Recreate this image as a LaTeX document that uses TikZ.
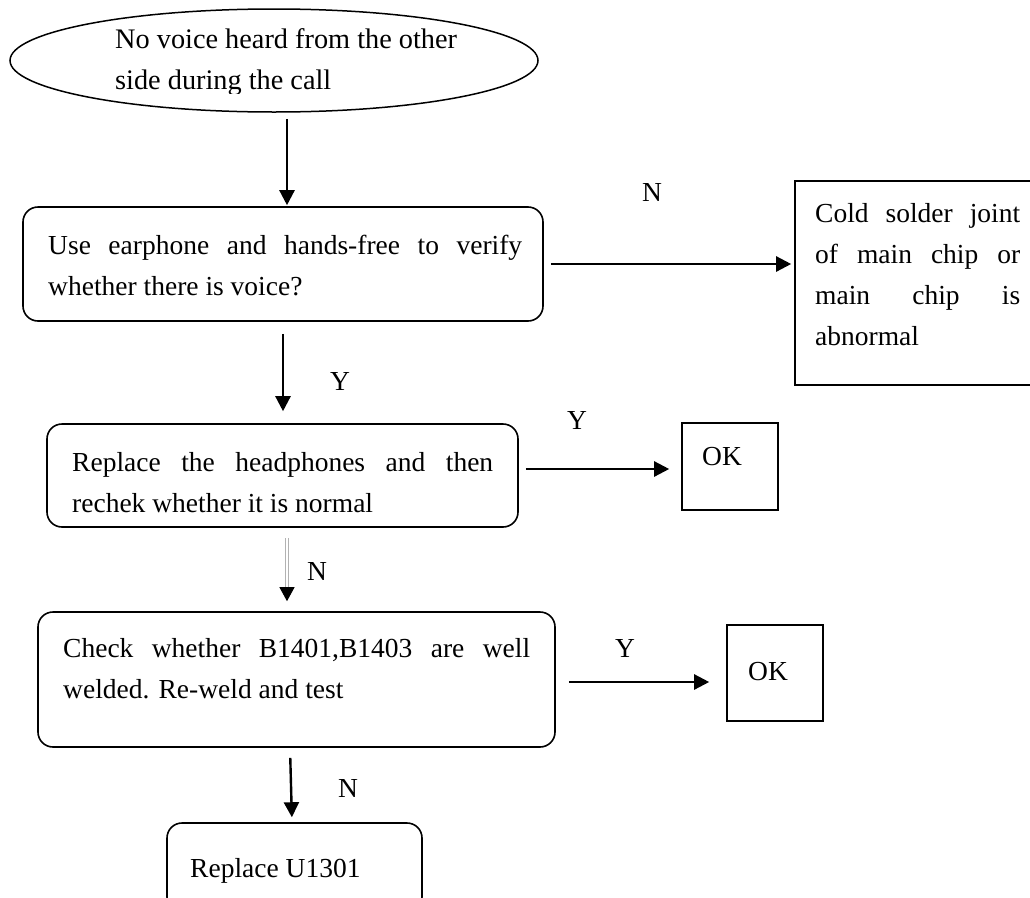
\documentclass[tikz,border=0pt]{standalone}
\usepackage{fontspec}
\setmainfont{Liberation Serif}
\usetikzlibrary{arrows.meta,shapes.geometric}
\tikzset{
  rbox/.style={draw, line width=1.6pt, rounded corners=15pt, inner sep=0pt},
  sqbox/.style={draw, line width=1.6pt, inner sep=0pt},
  txt/.style={anchor=base west, inner sep=0pt, font=\fontsize{27.5}{41}\selectfont},
  lbl/.style={anchor=base, inner sep=0pt, font=\fontsize{27.5}{41}\selectfont},
  arr/.style={line width=2.4pt, -{Triangle[length=15pt,width=15pt]}},
}
\begin{document}
\begin{tikzpicture}[x=1pt,y=-1pt]
\useasboundingbox (0,0) rectangle (1030,897);
\clip (0,0) rectangle (1030,897);

% shapes
\node[ellipse, draw, line width=1.5pt, inner sep=0pt,
      minimum width=528pt, minimum height=103pt] (start) at (274,60.5) {};
\node[rbox, minimum width=520pt, minimum height=114pt] (b1) at (283,264) {};
\node[sqbox, minimum width=250pt, minimum height=204pt] (rb) at (920,283) {};
\node[rbox, minimum width=471pt, minimum height=103pt] (b2) at (282.5,475.5) {};
\node[sqbox, minimum width=96pt, minimum height=87pt] (ok1) at (730,466.5) {};
\node[rbox, minimum width=517pt, minimum height=135pt] (b3) at (296.5,679.5) {};
\node[sqbox, minimum width=96pt, minimum height=96pt] (ok2) at (775,673) {};
\node[rbox, minimum width=255pt, minimum height=89pt] (b4) at (294.5,867.5) {};

% texts
\begin{scope}
  \clip (0,0) rectangle (1030,93);
  \node[txt, font=\fontsize{28.3}{41}\selectfont] (t0) at (115,48)
    {\parbox[t]{380pt}{\raggedright No voice heard from the other\\ side during the call}};
\end{scope}
\node[txt] (t1) at (48,254) {\parbox[t]{474pt}{Use earphone and hands-free to verify\linebreak whether there is voice?}};
\node[txt] (trb) at (815,222) {\parbox[t]{205pt}{Cold solder joint\linebreak of main chip or\linebreak main chip is\linebreak abnormal}};
\node[txt] (t2) at (72,471) {\parbox[t]{421pt}{Replace the headphones and then\linebreak rechek whether it is normal}};
\node[txt] (tok1) at (702,465) {OK};
\node[txt] (t3) at (63,657) {\parbox[t]{467pt}{Check whether B1401,B1403 are well\linebreak welded. Re-weld and test}};
\node[txt] (tok2) at (748,680) {OK};
\node[txt] (t4) at (190,877) {Replace U1301};

% connectors
\draw[arr, shorten <=6pt, shorten >=1pt] ([xshift=13pt]start.south) -- ([xshift=4pt]b1.north);
\draw[arr, shorten <=7pt, shorten >=3pt] (b1.east) -- (b1.east -| rb.west);
\draw[arr, shorten <=12pt, shorten >=12pt] (b1.south) -- (b1.south |- b2.north);
\draw[arr, shorten <=7pt, shorten >=12pt] ([yshift=6.5pt]b2.east) -- ([yshift=6.5pt]b2.east -| ok1.west);
\draw[draw=gray!60, double=white, double distance=2pt, line width=0.7pt,
      shorten <=10pt, shorten >=22pt] ([xshift=4.5pt]b2.south) -- ([xshift=4.5pt]b2.south |- b3.north);
\draw[line width=1pt, -{Triangle[length=14pt,width=15pt]},
      shorten <=60pt, shorten >=10pt] ([xshift=4.5pt]b2.south) -- ([xshift=4.5pt]b2.south |- b3.north);
\draw[arr, shorten <=13pt, shorten >=17pt] ([yshift=-2.5pt]b3.east) -- ([yshift=-2.5pt]b3.east -| ok2.west);
\draw[arr, shorten <=10pt, shorten >=5pt] ([xshift=-6.5pt]b3.south) -- ([xshift=-2.5pt]b4.north);

% branch labels
\node[lbl] (n1) at (652,201) {N};
\node[lbl] (y1) at (340,390) {Y};
\node[lbl] (y2) at (577,429) {Y};
\node[lbl] (n2) at (317,580) {N};
\node[lbl] (y3) at (625,657) {Y};
\node[lbl] (n3) at (348,797) {N};
\end{tikzpicture}
\end{document}
